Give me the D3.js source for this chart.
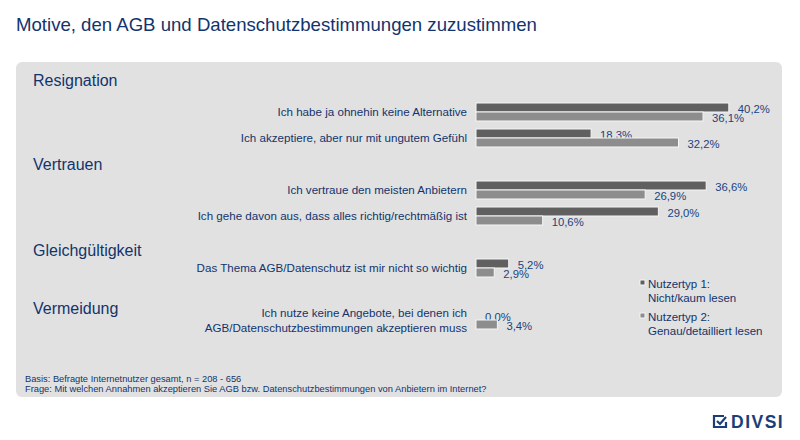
<!DOCTYPE html>
<html>
<head>
<meta charset="utf-8">
<title>Motive, den AGB und Datenschutzbestimmungen zuzustimmen</title>
<script src="https://cdn.jsdelivr.net/npm/d3@7/dist/d3.min.js"></script>
<style>
    body { margin: 0; background: #fff; }
    text { font-family: "Liberation Sans", Arial, sans-serif; }
</style>
</head>
<body>
<div id="chart"></div>
<script>
    // data
    var groups = ["Resignation", "Vertrauen", "Gleichgültigkeit", "Vermeidung"];
    var items = [
        "Ich habe ja ohnehin keine Alternative",
        "Ich akzeptiere, aber nur mit ungutem Gefühl",
        "Ich vertraue den meisten Anbietern",
        "Ich gehe davon aus, dass alles richtig/rechtmäßig ist",
        "Das Thema AGB/Datenschutz ist mir nicht so wichtig",
        "Ich nutze keine Angebote, bei denen ich\nAGB/Datenschutzbestimmungen akzeptieren muss"
    ];
    var itemGroup = [0, 0, 1, 1, 2, 3];
    var type1 = [40.2, 18.3, 36.6, 29.0, 5.2, 0.0];
    var type2 = [36.1, 32.2, 26.9, 10.6, 2.9, 3.4];
    var seriesNames = ["Nutzertyp 1:\nNicht/kaum lesen", "Nutzertyp 2:\nGenau/detailliert lesen"];
    var footnotes = [
        "Basis: Befragte Internetnutzer gesamt, n = 208 - 656",
        "Frage: Mit welchen Annahmen akzeptieren Sie AGB bzw. Datenschutzbestimmungen von Anbietern im Internet?"
    ];

    var W = 800, H = 440;
    var navy = "#12346c", valueBlue = "#1a4380";
    var colors = ["#606060", "#8d8d8d"];
    var headerOffset = [32, 26, 18, 12];   // header sits this far above its first row

    var svg = d3.select("#chart").append("svg")
        .attr("width", W)
        .attr("height", H);

    // title
    svg.append("text")
        .attr("x", 16).attr("y", 31)
        .attr("font-size", "18.6px")
        .attr("fill", navy)
        .text("Motive, den AGB und Datenschutzbestimmungen zuzustimmen");

    // grey panel
    svg.append("rect")
        .attr("x", 16).attr("y", 62)
        .attr("width", 766).attr("height", 335)
        .attr("rx", 6)
        .attr("fill", "#e1e1e1");

    // slots: each item gets a row, a spacer row between groups
    var slots = [];
    items.forEach(function(d, i) {
        if (i > 0 && itemGroup[i] !== itemGroup[i - 1]) slots.push("gap" + i);
        slots.push("item" + i);
    });

    var y = d3.scaleBand().domain(slots).range([99, 333]);
    var x = d3.scaleLinear().domain([0, 45]).range([476, 759]);
    var barH = 9;

    function rowY(i) { return y("item" + i) + y.bandwidth() / 2; }

    // group headers
    groups.forEach(function(g, gi) {
        var first = itemGroup.indexOf(gi);
        svg.append("text")
            .attr("x", 33)
            .attr("y", rowY(first) - headerOffset[gi])
            .attr("dy", "0.35em")
            .attr("font-size", "16px")
            .attr("fill", navy)
            .text(g);
    });

    // row labels
    items.forEach(function(label, i) {
        var lines = label.split("\n");
        var t = svg.append("text")
            .attr("x", 467)
            .attr("y", rowY(i))
            .attr("text-anchor", "end")
            .attr("font-size", "11.6px")
            .attr("fill", navy);
        lines.forEach(function(l, li) {
            t.append("tspan")
                .attr("x", 467)
                .attr("y", rowY(i) + (li - (lines.length - 1) / 2) * 15)
                .attr("dy", "0.35em")
                .text(l);
        });
    });

    // bars + value labels
    [type1, type2].forEach(function(vals, s) {
        var g = svg.append("g");
        g.selectAll("rect")
            .data(vals)
            .enter().append("rect")
            .attr("x", x(0))
            .attr("y", function(d, i) { return rowY(i) - barH + s * barH; })
            .attr("width", function(d) { return x(d) - x(0); })
            .attr("height", barH)
            .attr("fill", colors[s])
            .attr("stroke", "#f6f6f6")
            .attr("stroke-width", 1)
            .style("display", function(d) { return d > 0 ? null : "none"; });

        g.selectAll("text")
            .data(vals)
            .enter().append("text")
            .attr("x", function(d) { return x(d) + 9; })
            .attr("y", function(d, i) { return rowY(i) - barH + s * barH + barH / 2 + 5.5; })
            .attr("font-size", "11.3px")
            .attr("fill", valueBlue)
            .text(function(d) { return d.toFixed(1).replace(".", ",") + "%"; });
    });

    // legend
    var legend = svg.append("g").attr("transform", "translate(640,284)");
    seriesNames.forEach(function(name, s) {
        var row = legend.append("g").attr("transform", "translate(0," + (s * 33) + ")");
        row.append("rect")
            .attr("x", 0).attr("y", -4)
            .attr("width", 5).attr("height", 5)
            .attr("fill", colors[s])
            .attr("stroke", "#f6f6f6")
            .attr("stroke-width", 1);
        name.split("\n").forEach(function(l, li) {
            row.append("text")
                .attr("x", 8)
                .attr("y", li * 14)
                .attr("dy", "0.35em")
                .attr("font-size", "11.5px")
                .attr("fill", navy)
                .text(l);
        });
    });

    // footnotes
    footnotes.forEach(function(f, i) {
        svg.append("text")
            .attr("x", 25)
            .attr("y", 379 + i * 10)
            .attr("dy", "0.35em")
            .attr("font-size", "9.3px")
            .attr("fill", navy)
            .text(f);
    });

    // DIVSI logo
    var logo = svg.append("g").attr("transform", "translate(713,415)");
    logo.append("path")
        .attr("d", "M11,1 H1 V12 H13 V7")
        .attr("fill", "none")
        .attr("stroke", "#1b3e78")
        .attr("stroke-width", 2.2);
    logo.append("path")
        .attr("d", "M4,6 L7,9 L13,2")
        .attr("fill", "none")
        .attr("stroke", "#1b3e78")
        .attr("stroke-width", 2.2);
    logo.append("text")
        .attr("x", 18).attr("y", 12.5)
        .attr("font-size", "17.5px")
        .attr("font-weight", "bold")
        .attr("letter-spacing", "1.5px")
        .attr("fill", "#1b3e78")
        .text("DIVSI");
</script>
</body>
</html>
